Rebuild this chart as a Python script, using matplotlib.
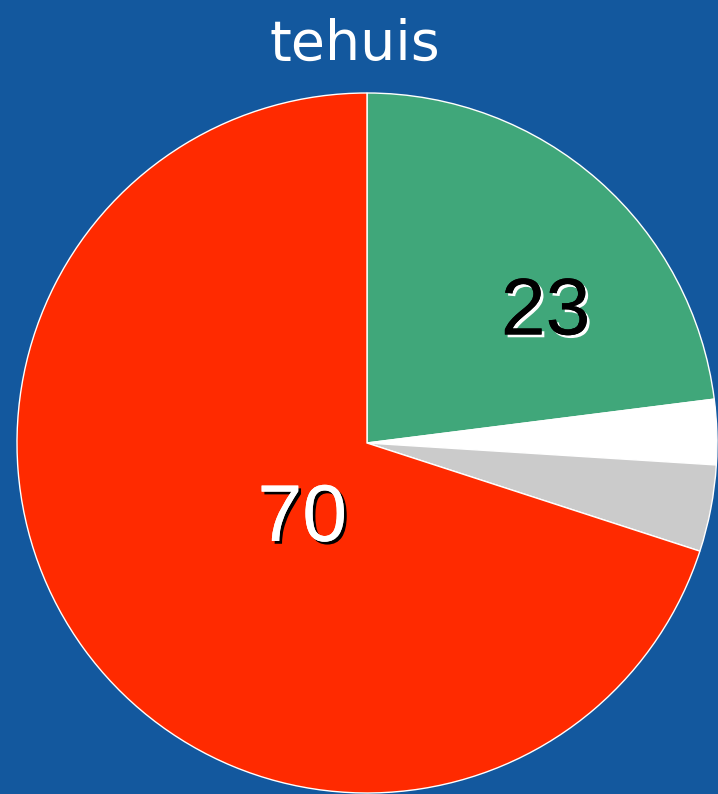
import matplotlib
matplotlib.use("Agg")
import matplotlib.pyplot as plt
import matplotlib.patheffects as pe

title = 'tehuis'
values = [23, 3, 4, 70]
colors = ['#40a77a', '#ffffff', '#cbcbcb', '#ff2a00']
shown = ['23', '', '', '70']

fig = plt.figure(figsize=(7.18, 7.94), dpi=100)
fig.patch.set_facecolor('#13589e')
ax = fig.add_axes([0, 0, 1, 1])
ax.set_facecolor('#13589e')

r_px = 350.0
cx, cy = 367.0, 443.0
ax.pie(values, colors=colors, startangle=90, counterclock=False,
       radius=1.0, wedgeprops=dict(edgecolor='white', linewidth=1.0))
ax.set_aspect('auto')
ax.set_xlim(-cx / r_px, (718 - cx) / r_px)
ax.set_ylim(-(794 - cy) / r_px, cy / r_px)
ax.axis('off')

# label positions (data units)
ax.text(0.51, 0.37, shown[0], fontsize=58, family='Liberation Sans',
        color='black', ha='center', va='center',
        path_effects=[pe.withSimplePatchShadow(offset=(2, -2), shadow_rgbFace='white', alpha=1),
                      pe.Normal()])
ax.text(-0.185, -0.22, shown[3], fontsize=58, family='Liberation Sans',
        color='white', ha='center', va='center',
        path_effects=[pe.withSimplePatchShadow(offset=(2, -2), shadow_rgbFace='black', alpha=1),
                      pe.Normal()])

fig.text(355 / 718, 1 - 60 / 794, title, fontsize=40, family='DejaVu Sans',
         color='white', ha='center', va='baseline')

fig.savefig('out.png', dpi=100, facecolor=fig.get_facecolor())
